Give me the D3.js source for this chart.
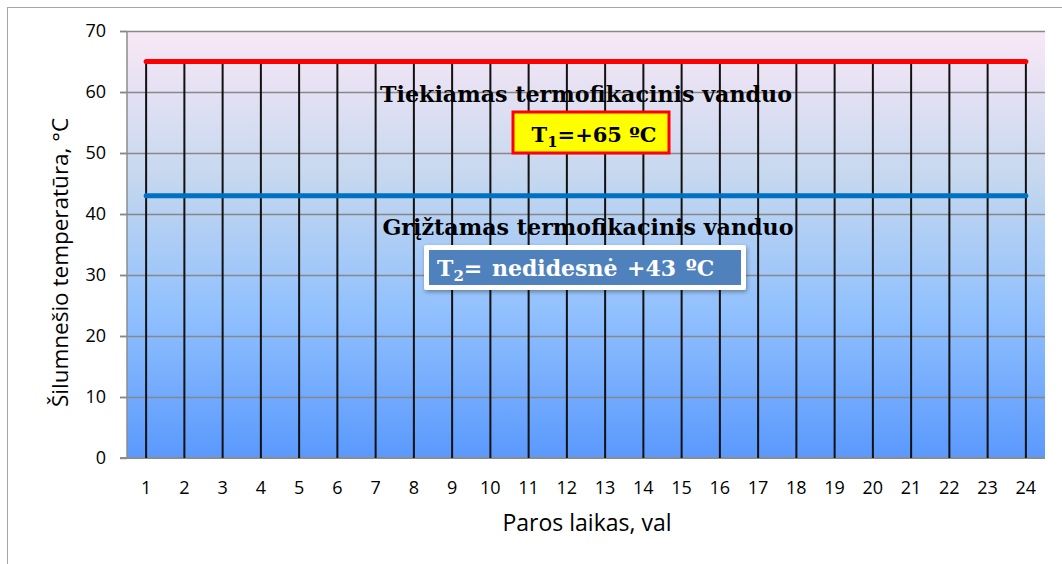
<!DOCTYPE html>
<html><head><meta charset="utf-8">
<script src="https://cdn.jsdelivr.net/npm/d3@7"></script>
<style>body{margin:0;background:#fff}svg{display:block}</style>
</head><body>
<svg id="c" width="1062" height="564"></svg>
<script>
const hours = d3.range(1, 25).map(String);
const supplyTemp = [65,65,65,65,65,65,65,65,65,65,65,65,65,65,65,65,65,65,65,65,65,65,65,65];
const returnTemp = [43,43,43,43,43,43,43,43,43,43,43,43,43,43,43,43,43,43,43,43,43,43,43,43];
const yTicks = [0,10,20,30,40,50,60,70];
const xTitle = "Paros laikas, val";
const yTitle = "Šilumnešio temperatūra, °C";
const supplyTitle = "Tiekiamas termofikacinis vanduo";
const returnTitle = "Grįžtamas termofikacinis vanduo";

const svg = d3.select("#c");
const L = 127, R = 1045, T = 31, B = 458;
const x = d3.scaleBand().domain(hours).range([L, R]);
const y = d3.scaleLinear().domain([0, 70]).range([B, T]);
const cx = d => x(d) + x.bandwidth() / 2;
const sans = "Open Sans, Liberation Sans, sans-serif";

const defs = svg.append("defs");
const g = defs.append("linearGradient").attr("id","bg").attr("x1",0).attr("y1",0).attr("x2",0).attr("y2",1);
[[0,"#f9e8f6"],[0.35,"#c4d7ef"],[0.65,"#92c1fd"],[1,"#5a99fd"]].forEach(s=>g.append("stop").attr("offset",s[0]).attr("stop-color",s[1]));
const f = defs.append("filter").attr("id","sh").attr("x","-10%").attr("y","-20%").attr("width","130%").attr("height","160%");
f.append("feDropShadow").attr("dx",1).attr("dy",2).attr("stdDeviation",2).attr("flood-color","#000").attr("flood-opacity",0.35);

// outer chart border
svg.append("rect").attr("x",7.5).attr("y",7.5).attr("width",1070).attr("height",570)
  .attr("fill","#fff").attr("stroke","#a6a6a6").attr("stroke-width",1);

// plot background
svg.append("rect").attr("x",L).attr("y",T).attr("width",R-L).attr("height",B-T).attr("fill","url(#bg)");

// gridlines
svg.append("g").selectAll("line").data(yTicks.filter(v=>v>0)).join("line")
  .attr("x1",L-7).attr("x2",R).attr("y1",d=>Math.round(y(d))+0.5).attr("y2",d=>Math.round(y(d))+0.5)
  .attr("stroke","#888").attr("stroke-width",1.5);

// y axis
const ya = svg.append("g").attr("transform",`translate(${L},0)`)
  .call(d3.axisLeft(y).tickValues(yTicks).tickSize(7).tickPadding(14));
ya.select(".domain").attr("stroke","#8c8c8c").attr("stroke-width",1.5).attr("d",`M0,${T}V${B}`);
ya.selectAll(".tick line").attr("stroke","#888").attr("stroke-width",1.5);
ya.selectAll(".tick text").attr("font-family",sans).attr("font-size",18).attr("fill","#000");

// x axis
const xa = svg.append("g").attr("transform",`translate(0,${B})`)
  .call(d3.axisBottom(x).tickSize(0).tickPadding(23));
xa.select(".domain").attr("stroke","#8c8c8c").attr("stroke-width",2).attr("d",`M${L-7},0H${R}`);
xa.selectAll(".tick text").attr("font-family",sans).attr("font-size",18).attr("fill","#000");

// drop lines
svg.append("g").selectAll("line").data(hours).join("line")
  .attr("x1",cx).attr("x2",cx).attr("y1",(d,i)=>y(supplyTemp[i])).attr("y2",B)
  .attr("stroke","#111").attr("stroke-width",2);

// series lines
const line = arr => d3.line().x((d,i)=>cx(hours[i])).y(d=>y(d))(arr);
svg.append("path").attr("d",line(returnTemp)).attr("fill","none").attr("stroke","#0070c0").attr("stroke-width",5).attr("stroke-linecap","round");
svg.append("path").attr("d",line(supplyTemp)).attr("fill","none").attr("stroke","#ff0000").attr("stroke-width",5).attr("stroke-linecap","round");

// axis titles
svg.append("text").attr("x",587).attr("y",531).attr("text-anchor","middle")
  .attr("font-family",sans).attr("font-size",23).text(xTitle);
svg.append("text").attr("transform",`translate(68,${(T+B)/2+18}) rotate(-90)`).attr("text-anchor","middle")
  .attr("font-family",sans).attr("font-size",22.5).text(yTitle);

// annotations
const serif = "DejaVu Serif, Liberation Serif, serif";
svg.append("text").attr("x",586).attr("y",102).attr("text-anchor","middle").attr("font-family",serif)
  .attr("font-weight","bold").attr("font-size",22.2).text(supplyTitle);
svg.append("rect").attr("x",513).attr("y",112).attr("width",156).attr("height",41)
  .attr("fill","#ffff00").attr("stroke","#ff0000").attr("stroke-width",3);
const t1 = svg.append("text").attr("x",594).attr("y",142).attr("text-anchor","middle").attr("font-family",serif)
  .attr("font-weight","bold").attr("font-size",21).attr("fill","#000");
t1.append("tspan").text("T");
t1.append("tspan").attr("font-size",15).attr("dy",5).text("1");
t1.append("tspan").attr("dy",-5).text("=+65 ºC");

svg.append("text").attr("x",588).attr("y",235).attr("text-anchor","middle").attr("font-family",serif)
  .attr("font-weight","bold").attr("font-size",22.2).text(returnTitle);
svg.append("rect").attr("x",424).attr("y",245).attr("width",322).attr("height",45).attr("rx",2)
  .attr("fill","#fff").attr("filter","url(#sh)");
svg.append("rect").attr("x",429).attr("y",250).attr("width",312).attr("height",35).attr("fill","#4f81bd");
const t2 = svg.append("text").attr("x",437).attr("y",276).attr("font-family",serif)
  .attr("font-weight","bold").attr("font-size",22).attr("word-spacing",2).attr("fill","#fff");
t2.append("tspan").text("T");
t2.append("tspan").attr("font-size",15).attr("dy",5).text("2");
t2.append("tspan").attr("dy",-5).text("= nedidesnė +43 ºC");
</script>
</body></html>
